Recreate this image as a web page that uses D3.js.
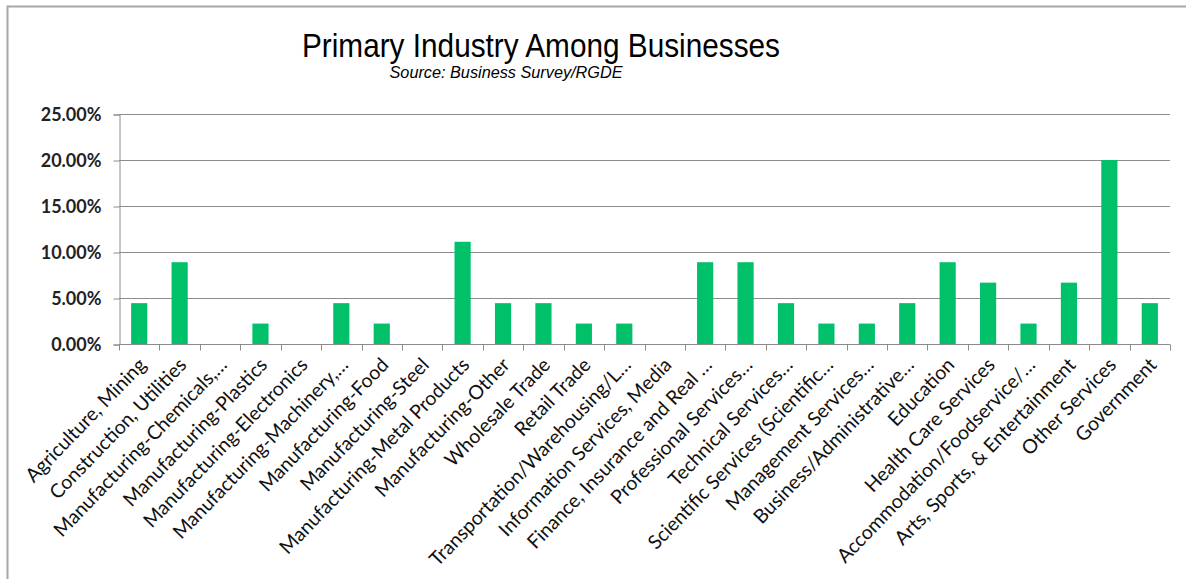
<!DOCTYPE html>
<html>
<head>
<meta charset="utf-8">
<script src="https://cdn.jsdelivr.net/npm/d3@7"></script>
<style>
  html, body { margin: 0; padding: 0; background: #fff; }
  svg { display: block; }
</style>
</head>
<body>
<svg id="chart" width="1186" height="579"></svg>
<script>
const categories = [
  "Agriculture, Mining",
  "Construction, Utilities",
  "Manufacturing-Chemicals,…",
  "Manufacturing-Plastics",
  "Manufacturing-Electronics",
  "Manufacturing-Machinery,…",
  "Manufacturing-Food",
  "Manufacturing-Steel",
  "Manufacturing-Metal Products",
  "Manufacturing-Other",
  "Wholesale Trade",
  "Retail Trade",
  "Transportation/Warehousing/L…",
  "Information Services, Media",
  "Finance, Insurance and Real …",
  "Professional Services…",
  "Technical Services…",
  "Scientific Services (Scientific…",
  "Management Services…",
  "Business/Administrative…",
  "Education",
  "Health Care Services",
  "Accommodation/Foodservice/…",
  "Arts, Sports, & Entertainment",
  "Other Services",
  "Government"
];
const shares = [
  0.0444, 0.0889, 0, 0.0222, 0, 0.0444, 0.0222, 0, 0.1111, 0.0444,
  0.0444, 0.0222, 0.0222, 0, 0.0889, 0.0889, 0.0444, 0.0222, 0.0222, 0.0444,
  0.0889, 0.0667, 0.0222, 0.0667, 0.2000, 0.0444
];
const yTicks = [0, 0.05, 0.10, 0.15, 0.20, 0.25];
const title = "Primary Industry Among Businesses";
const subtitle = "Source: Business Survey/RGDE";

const svg = d3.select("#chart");
const plot = { left: 119, right: 1170, top: 114, bottom: 344 };

// outer frame (top and left edges visible)
svg.append("rect")
  .attr("x", 7.5).attr("y", 6.5)
  .attr("width", 1300).attr("height", 700)
  .attr("fill", "none").attr("stroke", "#a6a6a6").attr("stroke-width", 2);

const x = d3.scaleBand().domain(categories)
  .range([plot.left, plot.right]).paddingInner(0.6).paddingOuter(0.3);
const xStep = d3.scaleLinear().domain([0, categories.length]).range([plot.left, plot.right]);
const y = d3.scaleLinear().domain([0, 0.25]).range([plot.bottom, plot.top]);

// gridlines
svg.append("g").selectAll("line").data(yTicks.slice(1)).join("line")
  .attr("x1", plot.left).attr("x2", plot.right)
  .attr("y1", d => Math.round(y(d)) + 0.5).attr("y2", d => Math.round(y(d)) + 0.5)
  .attr("stroke", "#8c8c8c").attr("stroke-width", 1);

// y axis
const yAxis = svg.append("g").attr("transform", `translate(${plot.left + 0.5},0.5)`)
  .call(d3.axisLeft(y).tickValues(yTicks).tickFormat(d3.format(".2%")).tickSize(6).tickPadding(12));
yAxis.select(".domain").attr("stroke", "#8c8c8c");
yAxis.selectAll(".tick line").attr("stroke", "#8c8c8c");
yAxis.selectAll("text").attr("font-family", "Lato, 'Open Sans', sans-serif")
  .attr("font-size", 18).attr("font-weight", "bold").attr("fill", "#222");

// bars
svg.append("g").selectAll("rect").data(categories).join("rect")
  .attr("x", d => x(d))
  .attr("width", x.bandwidth())
  .attr("y", (d, i) => y(shares[i]))
  .attr("height", (d, i) => y(0) - y(shares[i]))
  .attr("fill", "#00c06a");

// x axis line and boundary ticks
const xAxis = svg.append("g").attr("transform", `translate(0,${plot.bottom + 0.5})`);
xAxis.append("line").attr("x1", plot.left).attr("x2", plot.right)
  .attr("stroke", "#8c8c8c");
xAxis.selectAll("line.tk").data(d3.range(categories.length + 1)).join("line")
  .attr("class", "tk")
  .attr("x1", i => Math.round(xStep(i)) + 0.5).attr("x2", i => Math.round(xStep(i)) + 0.5)
  .attr("y1", 0).attr("y2", 6).attr("stroke", "#8c8c8c");

// category labels
svg.append("g").selectAll("text").data(categories).join("text")
  .attr("transform", d => `translate(${x(d) + x.bandwidth() / 2 + 8},${plot.bottom + 22}) rotate(-46)`)
  .attr("text-anchor", "end")
  .attr("font-family", "Lato, 'Open Sans', sans-serif")
  .attr("font-size", 19.5)
  .attr("fill", "#111")
  .text(d => d);

// titles
svg.append("text").attr("x", 541).attr("y", 57).attr("text-anchor", "middle")
  .attr("font-family", "'Liberation Sans', Arial, sans-serif").attr("font-size", 33)
  .attr("textLength", 478).attr("lengthAdjust", "spacingAndGlyphs")
  .attr("fill", "#000").text(title);
svg.append("text").attr("x", 506).attr("y", 78).attr("text-anchor", "middle")
  .attr("font-family", "'Liberation Sans', Arial, sans-serif").attr("font-size", 16)
  .attr("textLength", 233).attr("lengthAdjust", "spacingAndGlyphs")
  .attr("font-style", "italic").attr("fill", "#000").text(subtitle);
</script>
</body>
</html>
